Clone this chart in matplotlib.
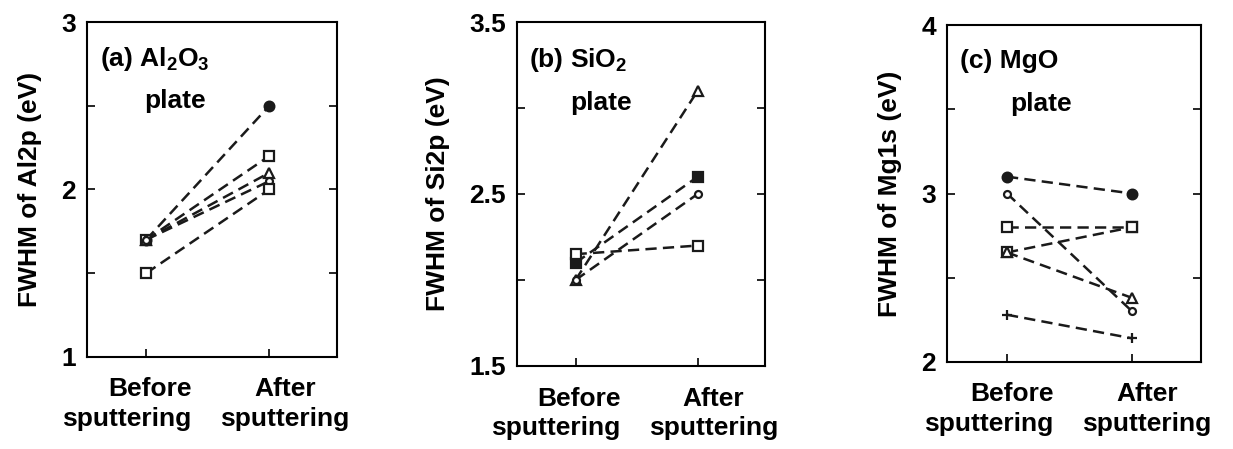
import matplotlib.pyplot as plt
from matplotlib.ticker import MultipleLocator, FixedLocator

plt.rcParams['font.family'] = ['Liberation Sans', 'DejaVu Sans']
plt.rcParams['font.weight'] = 'bold'
plt.rcParams['mathtext.fontset'] = 'custom'
plt.rcParams['mathtext.rm'] = 'Liberation Sans:bold'
plt.rcParams['mathtext.bf'] = 'Liberation Sans:bold'
plt.rcParams['mathtext.default'] = 'bf'

# Datos (antes / despues del sputtering)
x_labels = ['Before\nsputtering', 'After\nsputtering']

a_before = [1.7, 1.7, 1.7, 1.7, 1.5]
a_after = [2.5, 2.2, 2.1, 2.05, 2.0]
a_markers = ['o', 's', '^', 'o', 's']
a_filled = [True, False, False, False, False]
a_yticks = [1, 2, 3]

b_before = [2.0, 2.1, 2.0, 2.15]
b_after = [3.1, 2.6, 2.5, 2.2]
b_markers = ['^', 's', 'o', 's']
b_filled = [False, True, False, False]
b_yticks = [1.5, 2.5, 3.5]

c_before = [3.1, 3.0, 2.8, 2.65, 2.65, 2.28]
c_after = [3.0, 2.3, 2.8, 2.8, 2.38, 2.14]
c_markers = ['o', 'o', 's', 's', '^', '+']
c_filled = [True, False, False, False, False, True]
c_yticks = [2, 3, 4]

panels = [
    dict(before=a_before, after=a_after, markers=a_markers, filled=a_filled,
         yticks=a_yticks, ylabel='FWHM of Al2p (eV)', plate_x=0.35,
         title='(a) Al$_2$O$_3$', pos=[0.0706, 0.205, 0.2028, 0.746]),
    dict(before=b_before, after=b_after, markers=b_markers, filled=b_filled,
         yticks=b_yticks, ylabel='FWHM of Si2p (eV)', plate_x=0.34,
         title='(b) SiO$_2$', pos=[0.4193, 0.185, 0.201, 0.766]),
    dict(before=c_before, after=c_after, markers=c_markers, filled=c_filled,
         yticks=c_yticks, ylabel='FWHM of Mg1s (eV)', plate_x=0.37,
         title='(c) MgO', pos=[0.768, 0.194, 0.206, 0.75]),
]

fig = plt.figure(figsize=(12.33, 4.49), dpi=100)

for p in panels:
    ax = fig.add_axes(p['pos'])
    for b, a, m, f in zip(p['before'], p['after'], p['markers'], p['filled']):
        size = 5 if m == 'o' and not f else 7
        ax.plot([0, 1], [b, a], linestyle=(0, (4.5, 2.5)), color='#1a1a1a', lw=1.8,
                marker=m, markersize=size, markeredgewidth=1.6,
                markerfacecolor='#1a1a1a' if f else 'white', markeredgecolor='#1a1a1a')
    ax.set_xlim(-0.48, 1.55)
    ax.set_ylim(p['yticks'][0], p['yticks'][-1])
    ax.set_xticks([0, 1])
    ax.set_xticklabels(['', ''])
    # etiquetas del eje x colocadas a mano para separarlas
    ax.text(0.37, -0.06, x_labels[0], transform=ax.get_xaxis_transform(),
            ha='right', va='top', multialignment='right', fontsize=19,
            fontweight='bold', linespacing=1.3)
    ax.text(0.60, -0.06, x_labels[1], transform=ax.get_xaxis_transform(),
            ha='left', va='top', multialignment='center', fontsize=19,
            fontweight='bold', linespacing=1.3)
    ax.yaxis.set_major_locator(FixedLocator(p['yticks']))
    ax.yaxis.set_minor_locator(MultipleLocator(0.5))
    ax.set_yticklabels([f'{v:g}' for v in p['yticks']], fontsize=19, fontweight='bold')
    ax.tick_params(axis='y', which='both', direction='in', left=True, right=True,
                   length=6, width=1.2, pad=8)
    ax.tick_params(axis='x', direction='in', length=6, width=1.2)
    ax.set_ylabel(p['ylabel'], fontsize=19, fontweight='bold', labelpad=14)
    for s in ax.spines.values():
        s.set_linewidth(1.5)
    ax.text(0.05, 0.93, p['title'], transform=ax.transAxes, fontsize=19,
            fontweight='bold', ha='left', va='top')
    ax.text(p['plate_x'], 0.80, 'plate', transform=ax.transAxes, fontsize=19,
            fontweight='bold', ha='center', va='top')

fig.savefig('out.png', dpi=100)
